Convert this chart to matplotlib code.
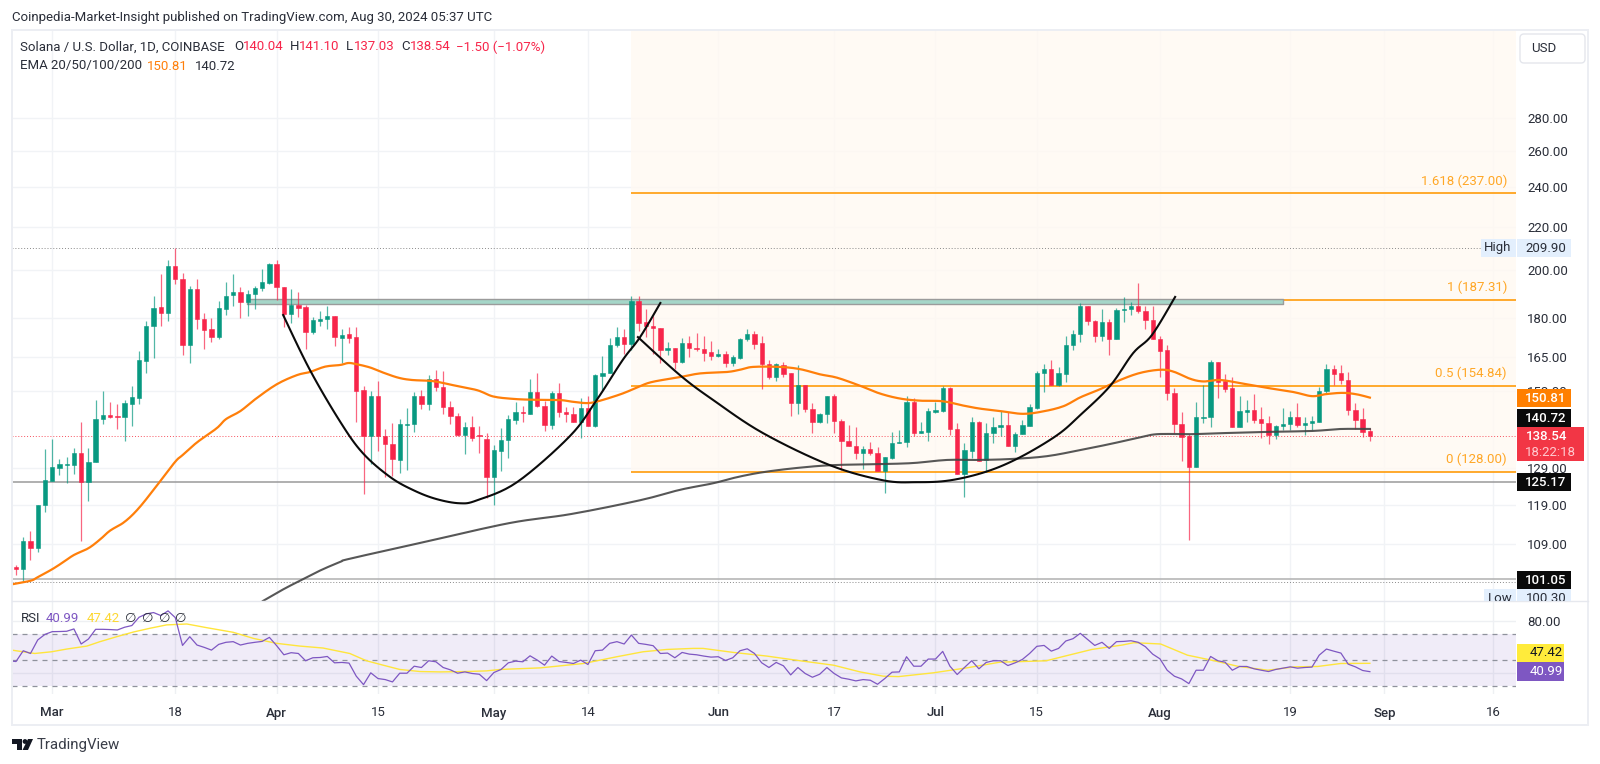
import matplotlib
matplotlib.use("Agg")
import matplotlib.pyplot as plt
import numpy as np
import pandas as pd
from matplotlib.patches import Rectangle, FancyBboxPatch, Polygon, Circle
from matplotlib.transforms import Bbox, TransformedBbox

plt.rcParams["font.family"] = ["Roboto", "DejaVu Sans"]

# daily candles, Feb 25 to Aug 30 2024
start_date = "2024-02-25"
opens = [103.8, 103.2, 109.8, 108.2, 118.9, 125.5, 129.2, 129.9, 129.9, 133.4, 125.2, 130.9, 143.8, 145.1, 144.8, 144.5,
         148.8, 150.8, 163.7, 176.6, 184.2, 181.9, 201.8, 196.0, 169.4, 191.9, 179.5, 175.5, 172.4, 183.6, 189.2, 190.4,
         186.1, 189.5, 192.0, 194.3, 202.6, 192.6, 181.4, 185.0, 184.2, 174.2, 178.7, 179.4, 180.6, 172.2, 173.4, 172.4,
         153.3, 138.4, 151.3, 138.5, 136.1, 131.5, 141.9, 142.2, 151.3, 148.7, 157.0, 154.5, 147.7, 144.8, 138.8, 141.3,
         138.8, 137.7, 126.6, 134.1, 137.4, 143.6, 146.1, 145.6, 152.7, 148.0, 141.9, 152.3, 146.0, 145.4, 142.9, 147.4,
         141.6, 158.3, 159.2, 169.4, 172.4, 169.8, 186.7, 178.1, 176.7, 176.0, 167.6, 168.3, 163.1, 170.0, 168.4, 168.0,
         166.8, 165.3, 166.1, 162.8, 164.6, 171.5, 173.6, 170.0, 162.4, 157.8, 162.2, 159.1, 149.1, 155.0, 147.1, 142.9,
         145.3, 151.2, 143.2, 137.1, 135.6, 133.4, 134.6, 133.5, 128.2, 132.0, 136.5, 136.6, 149.4, 139.6, 139.8, 146.2,
         146.4, 153.9, 140.7, 127.5, 134.1, 142.9, 131.3, 139.4, 141.2, 141.8, 135.5, 139.2, 141.7, 147.5, 159.3, 160.6,
         155.0, 159.0, 169.3, 173.6, 184.7, 178.7, 172.8, 178.2, 171.5, 183.0, 183.3, 184.8, 182.7, 179.0, 171.6, 167.4,
         152.3, 142.4, 138.4, 129.5, 144.3, 144.5, 163.1, 156.3, 153.9, 141.4, 146.2, 146.6, 143.8, 142.6, 138.9, 141.7,
         142.2, 144.4, 141.9, 142.6, 143.0, 153.2, 160.6, 159.1, 156.9, 146.8, 144.0, 140.04]
highs = [104.2, 110.7, 112.3, 118.9, 134.6, 137.7, 131.6, 132.2, 134.8, 142.9, 134.8, 150.0, 153.0, 149.4, 148.7, 150.0,
         154.8, 167.2, 178.6, 188.9, 198.0, 204.4, 209.9, 198.8, 193.2, 196.0, 181.9, 180.0, 186.7, 194.6, 198.0, 192.7,
         191.2, 192.9, 200.4, 203.3, 204.4, 192.6, 191.9, 190.3, 185.0, 180.1, 182.8, 184.6, 180.6, 175.4, 176.4, 176.3,
         154.8, 153.0, 156.4, 140.7, 142.7, 143.7, 147.5, 152.6, 153.3, 158.5, 160.3, 160.0, 149.6, 145.9, 143.0, 144.8,
         141.7, 139.5, 135.8, 140.9, 145.1, 149.2, 148.0, 157.0, 159.1, 149.8, 153.1, 155.6, 147.8, 147.6, 150.6, 151.4,
         158.9, 165.2, 171.9, 176.1, 175.4, 188.8, 189.0, 183.3, 180.6, 176.0, 170.5, 168.3, 171.9, 173.0, 173.8, 172.8,
         171.0, 167.8, 167.2, 165.7, 171.9, 175.7, 174.7, 172.8, 164.0, 162.9, 163.1, 159.1, 162.1, 155.0, 148.9, 145.9,
         151.2, 152.0, 143.8, 141.9, 141.3, 135.5, 136.7, 135.1, 132.3, 139.8, 140.4, 151.2, 150.7, 143.0, 147.5, 149.3,
         154.7, 154.3, 142.5, 136.4, 144.5, 143.2, 142.5, 144.5, 146.4, 146.1, 139.8, 143.5, 148.6, 160.0, 162.4, 164.0,
         161.5, 172.8, 175.1, 185.7, 184.7, 179.2, 183.5, 179.6, 183.7, 188.5, 186.4, 194.2, 184.8, 184.7, 173.0, 169.4,
         153.9, 146.1, 139.1, 149.4, 155.0, 163.9, 163.1, 158.9, 157.9, 151.3, 150.0, 152.0, 147.6, 144.9, 141.9, 147.3,
         146.4, 148.9, 144.5, 144.9, 154.3, 162.3, 162.1, 162.1, 159.7, 148.9, 147.5, 141.10]
lows = [101.9, 100.3, 105.3, 107.2, 117.2, 125.5, 127.2, 124.8, 127.4, 109.9, 120.0, 130.9, 142.2, 144.2, 140.6, 137.1,
        141.7, 148.8, 159.3, 164.7, 176.8, 178.6, 193.8, 165.6, 162.7, 175.5, 167.9, 170.6, 171.5, 181.1, 184.7, 180.0,
        180.7, 183.6, 191.0, 193.8, 187.1, 176.1, 177.9, 180.3, 168.1, 173.6, 176.8, 175.5, 169.0, 162.7, 170.0, 143.0,
        122.0, 130.2, 134.0, 126.6, 126.8, 127.7, 128.5, 139.8, 146.9, 146.7, 153.1, 145.3, 142.2, 138.6, 133.1, 137.1,
        133.3, 120.7, 118.9, 128.3, 132.1, 142.2, 143.0, 145.4, 147.8, 140.2, 140.6, 144.6, 143.0, 143.0, 138.0, 141.7,
        141.4, 153.3, 159.2, 168.8, 166.1, 167.5, 174.6, 172.3, 166.1, 162.7, 165.7, 160.5, 162.7, 165.1, 167.2, 163.6,
        164.0, 165.1, 161.5, 161.8, 164.4, 171.0, 167.9, 153.8, 157.3, 156.4, 157.7, 144.9, 145.4, 146.1, 139.6, 142.7,
        142.7, 139.6, 128.5, 135.6, 131.7, 128.8, 132.8, 128.2, 122.2, 131.8, 136.3, 135.3, 138.6, 139.5, 137.1, 145.9,
        146.1, 138.8, 127.4, 121.0, 132.1, 131.2, 128.0, 136.5, 138.5, 135.5, 133.8, 139.1, 141.6, 147.0, 152.6, 155.0,
        154.8, 156.0, 167.5, 170.6, 177.1, 170.5, 171.0, 165.6, 171.5, 178.4, 181.0, 181.9, 175.5, 171.5, 157.7, 150.0,
        139.6, 131.0, 110.0, 129.4, 142.5, 141.3, 150.8, 152.6, 141.4, 141.4, 143.0, 142.7, 138.0, 136.0, 137.5, 140.4,
        140.4, 141.2, 138.9, 140.4, 142.9, 152.2, 155.0, 155.3, 145.1, 140.7, 138.1, 137.03]
closes = [103.2, 109.8, 108.2, 118.9, 125.7, 129.3, 130.2, 130.2, 133.4, 125.2, 130.9, 144.0, 145.1, 144.5, 144.6, 148.9,
          151.0, 163.9, 176.6, 183.8, 181.8, 201.8, 195.9, 169.4, 191.9, 179.4, 175.1, 172.4, 183.8, 188.9, 190.4, 186.3,
          189.6, 192.1, 194.6, 202.6, 192.4, 181.4, 185.0, 184.0, 174.3, 178.9, 179.5, 180.6, 172.3, 173.2, 172.1, 153.2,
          138.4, 151.5, 138.4, 136.1, 131.6, 142.2, 142.4, 151.3, 148.7, 157.0, 154.5, 147.7, 144.9, 138.8, 141.3, 138.0,
          138.6, 126.6, 134.3, 137.4, 143.7, 146.1, 145.8, 152.7, 148.0, 141.9, 152.3, 146.0, 145.4, 143.0, 147.5, 141.7,
          158.5, 159.4, 169.4, 172.4, 169.8, 186.8, 178.0, 176.7, 175.9, 167.6, 168.3, 163.1, 170.0, 168.3, 167.9, 166.5,
          165.3, 166.1, 162.8, 164.9, 171.6, 173.6, 169.9, 162.5, 157.7, 162.3, 159.0, 149.1, 155.0, 147.1, 142.9, 145.4,
          151.2, 143.1, 137.0, 135.6, 133.4, 134.6, 133.4, 128.2, 132.2, 136.4, 136.7, 149.4, 139.5, 140.0, 146.4, 146.6,
          153.9, 140.7, 127.5, 134.2, 142.9, 131.2, 139.6, 141.3, 141.8, 135.6, 139.3, 141.8, 147.7, 159.4, 160.6, 155.0,
          159.1, 169.4, 173.7, 184.7, 178.6, 173.0, 178.2, 171.5, 183.2, 183.4, 184.8, 182.6, 179.0, 171.6, 167.3, 152.3,
          142.4, 138.3, 129.5, 144.4, 144.6, 163.1, 156.2, 153.8, 141.4, 146.4, 146.6, 143.6, 142.6, 138.9, 141.7, 142.4,
          144.4, 141.9, 142.6, 143.2, 153.2, 160.6, 159.0, 156.8, 146.7, 143.6, 139.8, 138.54]

# moving averages read at a few bars
ema50_bars = [-0.6, 2, 3, 5, 6.5, 8, 10, 11.6, 13, 15, 17, 19.7, 22, 23, 25, 27.7, 29, 31, 33, 36, 38.8, 40.6, 42.7, 44.8,
              45.9, 47, 48.9, 50.7, 52.8, 54.7, 57.6, 60.4, 63.7, 65.9, 68.6, 71.4, 75.1, 77, 79, 80.7, 83.8, 86.2, 88,
              91.7, 94.5, 98.2, 100, 101.8, 105.5, 108.3, 111, 113.4, 116.6, 119.3, 122.1, 124.8, 128, 130.8, 133.1,
              135.9, 139.1, 141.9, 144.7, 147, 149.7, 152.5, 155.3, 158.1, 159.9, 162.2, 164, 166.3, 169.1, 172.8, 176.4,
              179, 181, 183.3, 185.2, 187]
ema50_vals = [99.8, 100.6, 101.4, 103.2, 104.8, 106.5, 108.1, 110.2, 112.4, 114.6, 118.2, 124.8, 130.9, 132.8, 136.6, 140.9,
              143.8, 146.4, 150.2, 155.3, 158.5, 159.6, 161.5, 162.1, 162.8, 162.4, 161.2, 159.4, 157.6, 156.8, 156.4,
              155.0, 153.3, 151.2, 150.4, 150.1, 150.0, 149.4, 149.0, 149.8, 152.2, 154.7, 156.2, 157.8, 159.1, 159.6,
              160.4, 161.4, 161.4, 160.6, 158.8, 157.6, 154.8, 152.2, 150.5, 149.8, 149.6, 148.2, 147.2, 146.4, 145.5,
              146.3, 148.0, 150.9, 153.6, 156.8, 159.3, 160.4, 159.7, 157.2, 156.3, 156.8, 155.7, 154.1, 152.7, 151.3,
              152.0, 152.4, 151.9, 150.81]
ema200_bars = [34.1, 36.9, 39.2, 42, 44.8, 46.3, 56.9, 68.2, 76.7, 86.2, 91.7, 96.3, 99.6, 103.2, 107.9, 112.8, 119.3, 123.9,
               128.6, 133.1, 137.7, 142.4, 147, 151.1, 154.8, 157.6, 162.2, 166.3, 172.8, 179.1, 182.9, 187]
ema200_vals = [96.2, 98.7, 100.6, 102.9, 104.9, 105.7, 109.8, 114.3, 116.6, 120.2, 123.0, 124.8, 126.5, 127.9, 129.1, 129.9,
               130.2, 130.5, 131.4, 131.4, 131.7, 132.5, 134.3, 136.1, 137.9, 139.1, 139.1, 139.4, 139.8, 140.1, 140.7, 140.72]

# hand drawn cup arcs
arc1_bars = [36.9, 40.6, 44.8, 47.9, 51.7, 55, 58.1, 61.3, 63.7, 69.2, 76.5, 80.2, 83.8, 86.2, 89]
arc1_vals = [181.0, 160.3, 142.9, 133.4, 126.5, 122.8, 120.5, 119.4, 120.2, 125.1, 138.5, 150.0, 163.9, 172.4, 185.9]
arc2_bars = [85.9, 91.7, 96.3, 103.2, 112.4, 119.8, 124.4, 129, 134.1, 138.7, 143.8, 147, 151.1, 154.3, 156.9, 160.1]
arc2_vals = [172.4, 158.5, 150.0, 139.4, 129.9, 125.6, 125.1, 125.6, 128.1, 132.2, 138.8, 145.1, 154.7, 166.4, 173.2, 188.4]

# rsi starts one bar before the first candle
rsi_vals = [49.4, 48.8, 57.1, 55.0, 65.4, 69.7, 71.8, 71.9, 72.1, 73.9, 62.3, 66.1, 73.6, 73.6, 73.4, 73.1, 75.2, 76.5, 82.9, 85.5,
            86.5, 84.2, 87.8, 82.6, 61.2, 67.9, 61.5, 59.7, 57.6, 62.0, 63.6, 64.1, 61.5, 62.8, 63.6, 64.3, 67.4, 61.0,
            54.0, 55.6, 55.0, 49.4, 51.7, 51.9, 52.7, 47.8, 48.1, 47.6, 37.5, 31.0, 40.1, 35.7, 34.9, 33.1, 39.8, 39.8,
            45.2, 44.2, 49.4, 48.6, 44.2, 42.4, 39.8, 40.8, 39.6, 39.0, 34.1, 40.3, 42.7, 47.8, 49.1, 48.6, 53.2, 49.9,
            46.0, 53.0, 48.8, 48.1, 47.3, 49.9, 46.5, 57.1, 57.6, 62.8, 64.1, 62.3, 69.2, 62.8, 62.0, 61.0, 55.0, 55.3,
            51.7, 55.8, 54.5, 54.0, 53.0, 52.2, 52.5, 49.6, 51.7, 57.1, 58.6, 55.0, 47.8, 44.2, 48.1, 45.5, 38.5, 44.2,
            39.6, 36.7, 39.0, 44.2, 39.6, 36.2, 35.2, 33.9, 34.9, 34.4, 31.3, 35.7, 40.6, 40.8, 52.5, 45.2, 45.2, 50.7,
            50.7, 56.6, 45.2, 38.8, 44.2, 49.4, 43.2, 48.1, 49.4, 49.4, 45.7, 47.8, 50.4, 55.0, 60.5, 61.2, 56.8, 58.9,
            64.6, 66.4, 70.5, 65.9, 61.2, 63.6, 58.9, 64.1, 64.3, 64.8, 63.6, 60.2, 54.5, 50.9, 42.1, 37.5, 35.4, 31.8,
            42.1, 42.1, 52.7, 49.4, 48.3, 42.1, 45.0, 45.0, 43.2, 42.1, 41.1, 42.7, 43.7, 44.7, 43.7, 44.2, 44.5, 53.7,
            58.4, 56.8, 55.3, 46.8, 44.7, 41.9, 40.99]
rsi_ma_bars = [-0.6, 2.6, 4.9, 7, 9.8, 11.6, 13.9, 16.2, 18.5, 20.8, 23.6, 26.3, 30, 32.8, 36, 39.2, 42.4, 46.1, 48.4, 50.7,
               53, 55.8, 58.6, 62.2, 65, 66.9, 72.4, 78.4, 83, 86.6, 89.9, 93.5, 94.9, 99.1, 103.7, 108.3, 112.9, 116.6,
               119.8, 121.9, 126.7, 131.3, 135.9, 139.1, 142.3, 145.4, 148.6, 152.8, 154.4, 158.1, 161.8, 165.5, 168.7,
               172.9, 176.6, 179.8, 183, 187]
rsi_ma_vals = [57.6, 55.0, 56.3, 58.4, 60.7, 64.1, 67.9, 71.5, 74.4, 77.0, 77.7, 74.9, 71.3, 66.6, 62.8, 60.7, 59.2, 55.0, 49.4,
               46.0, 42.7, 41.1, 40.8, 41.1, 41.6, 42.7, 43.9, 47.3, 52.5, 56.3, 58.1, 58.9, 58.9, 55.8, 53.0, 49.4, 46.0,
               40.8, 37.5, 37.2, 40.1, 43.9, 48.3, 48.8, 49.4, 53.7, 58.1, 61.5, 63.3, 62.3, 53.7, 49.4, 45.2, 42.1, 44.7,
               45.0, 47.3, 47.42]

# levels
fib_levels = [237.00, 187.31, 154.84, 128.00]
fib_labels = ["1.618 (237.00)", "1 (187.31)", "0.5 (154.84)", "0 (128.00)"]
support_levels = [125.17, 101.05]
price_high = 209.90
price_low = 100.30
last_close = 138.54
zone_low, zone_high = 185.6, 187.5

price_ticks = [280, 260, 240, 220, 200, 180, 165, 153, 129, 119, 109]
date_ticks = ["2024-03-01", "2024-03-18", "2024-04-01", "2024-04-15", "2024-05-01", "2024-05-14", "2024-06-01",
              "2024-06-17", "2024-07-01", "2024-07-15", "2024-08-01", "2024-08-19", "2024-09-01", "2024-09-16"]
date_labels = ["Mar", "18", "Apr", "15", "May", "14", "Jun", "17", "Jul", "15", "Aug", "19", "Sep", "16"]

UP = "#089981"
DOWN = "#f7254a"
ORANGE = "#ff9800"
GRID = "#f1f3f6"
TEXT = "#2a2e39"
FS = 9.55
W, H = 1600, 764
X0, X1 = 12, 1516          # pane edges in pixels
PANE_TOP, PANE_MID, PANE_BOT = 30, 601, 694
PRICE_MIN, PRICE_MAX = 96.2, 339.9
PX_PER_BAR = 7.24
FIRST_BAR_X = 16


def bar_of(px):
    return (px - FIRST_BAR_X) / PX_PER_BAR


def pane_rect(top, bottom):
    return [X0 / W, 1 - bottom / H, (X1 - X0) / W, (bottom - top) / H]


def date_to_bar(d):
    return (pd.Timestamp(d) - pd.Timestamp(start_date)).days


def smooth_curve(xs, ys, n=8):
    """catmull-rom through the read points, in log price, so lines don't look kinked"""
    xs = np.array(xs, dtype=float)
    ys = np.log(np.array(ys, dtype=float))
    px = np.r_[xs[0], xs, xs[-1]]
    py = np.r_[ys[0], ys, ys[-1]]
    out_x, out_y = [], []
    for i in range(1, len(px) - 2):
        t = np.linspace(0, 1, n, endpoint=False)
        for p, out in ((px, out_x), (py, out_y)):
            a, b, c, d = p[i - 1], p[i], p[i + 1], p[i + 2]
            out.extend(0.5 * (2 * b + (c - a) * t + (2 * a - 5 * b + 4 * c - d) * t ** 2 + (3 * b - a - 3 * c + d) * t ** 3))
    out_x.append(xs[-1])
    out_y.append(ys[-1])
    return np.array(out_x), np.exp(out_y)


fig = plt.figure(figsize=(16, 7.64), dpi=100, facecolor="white")
ax = fig.add_axes(pane_rect(PANE_TOP, PANE_MID))
ax_rsi = fig.add_axes(pane_rect(PANE_MID, PANE_BOT), sharex=ax)

bars = np.arange(len(closes))
tick_bars = [date_to_bar(d) for d in date_ticks]

# main pane
ax.set_yscale("log")
ax.set_xlim(bar_of(X0), bar_of(X1))
ax.set_ylim(PRICE_MIN, PRICE_MAX)
ax.set_yticks(price_ticks)
ax.set_yticklabels([f"{p:.2f}" for p in price_ticks])
ax.minorticks_off()
ax.yaxis.tick_right()
ax.tick_params(axis="y", length=0, pad=8, labelsize=FS, labelcolor=TEXT)
ax.tick_params(axis="x", length=0, labelbottom=False)
ax.set_xticks(tick_bars)
ax.grid(True, color=GRID, lw=1)
ax.set_axisbelow(True)
for s in ax.spines.values():
    s.set_visible(False)

# fib background and levels start on the bar of the cup rim
fib_start = bar_of(631)
ax.fill_between([fib_start, bar_of(X1)], 128.0, PRICE_MAX, color="#fff9f2", alpha=0.8, lw=0, zorder=1.2)
for lvl, lab in zip(fib_levels, fib_labels):
    ax.plot([fib_start, bar_of(X1)], [lvl, lvl], color=ORANGE, lw=1.15, solid_capstyle="butt", zorder=2)
    ax.annotate(lab, (bar_of(X1), lvl), xytext=(-6.5, 4), textcoords="offset points", ha="right", va="bottom",
                fontsize=FS, color="#ffa726", zorder=6, annotation_clip=False)

# reference lines
for lvl, col in zip(support_levels, ["#9a9a9a", "#b0b0b0"]):
    ax.axhline(lvl, color=col, lw=1.1, zorder=2)
ax.axhline(price_high, color="#8a8a8a", lw=0.7, ls=(0, (1, 2)), zorder=1.5)
ax.axhline(price_low, color="#8a8a8a", lw=0.7, ls=(0, (1, 2)), zorder=1.5)
ax.axhline(last_close, color="#f7525f", lw=0.7, ls=(0, (1, 2)), zorder=1.5)

# resistance zone
zone_x0, zone_x1 = bar_of(247), bar_of(1283)
ax.fill_between([zone_x0, zone_x1], zone_low, zone_high, facecolor="#a5d6c8", edgecolor="#9b9b9b", lw=1.0, zorder=2.2)

# candles
colors = [UP if c >= o else DOWN for o, c in zip(opens, closes)]
body_low = np.minimum(opens, closes)
body_high = np.maximum(opens, closes)
ax.vlines(bars, lows, highs, colors=colors, lw=0.9, alpha=0.7, zorder=3)
ax.bar(bars, body_high - body_low, bottom=body_low, width=0.6, color=colors, lw=0.4, edgecolor=colors, zorder=3.2)

# ema lines and arcs
ax.plot(*smooth_curve(ema50_bars, ema50_vals), color="#ff7f0a", lw=1.6, solid_joinstyle="round", zorder=4)
ax.plot(*smooth_curve(ema200_bars, ema200_vals), color="#454545", lw=1.5, alpha=0.9, solid_joinstyle="round", zorder=4)
ax.plot(*smooth_curve(arc1_bars, arc1_vals), color="#0b0b0b", lw=1.5, solid_joinstyle="round", zorder=4.5)
ax.plot(*smooth_curve(arc2_bars, arc2_vals), color="#0b0b0b", lw=1.5, solid_joinstyle="round", zorder=4.5)

# rsi pane
rsi_bars = np.arange(-1, len(rsi_vals) - 1)
ax_rsi.set_ylim(23.8, 95.4)
ax_rsi.set_yticks([80, 40])
ax_rsi.set_yticklabels(["80.00", ""])
ax_rsi.yaxis.tick_right()
ax_rsi.tick_params(axis="y", length=0, pad=8, labelsize=FS, labelcolor=TEXT)
ax_rsi.grid(True, color="#eef0f3", lw=1)
ax_rsi.set_axisbelow(True)
for s in ax_rsi.spines.values():
    s.set_visible(False)
ax_rsi.axhspan(30, 70, color="#7e57c2", alpha=0.11, lw=0)
for lvl in [70, 50, 30]:
    ax_rsi.axhline(lvl, color="#8f929c", lw=0.9, ls=(0, (4, 4)))

# green gradient where rsi is above 70
rsi_arr = np.array(rsi_vals)
fill = ax_rsi.fill_between(rsi_bars, 70, rsi_arr, where=rsi_arr >= 70, interpolate=True, color="none", lw=0)
grad = np.zeros((64, 2, 4))
grad[..., :3] = matplotlib.colors.to_rgb("#2e9e4f")
grad[..., 3] = np.linspace(0.65, 0.0, 64)[:, None]
img = ax_rsi.imshow(grad, extent=[bar_of(X0), bar_of(X1), 70, 90], origin="upper", aspect="auto", zorder=1.5)
img.set_clip_path(fill.get_paths()[0], transform=ax_rsi.transData)
ax_rsi.set_xlim(bar_of(X0), bar_of(X1))
ax_rsi.set_ylim(23.8, 95.4)

ax_rsi.plot(rsi_ma_bars, rsi_ma_vals, color="#ffe53b", lw=1.0, zorder=3)
ax_rsi.plot(rsi_bars, rsi_vals, color="#7e57c2", lw=0.9, zorder=3.2)

ax_rsi.set_xticks(tick_bars)
ax_rsi.set_xticklabels(date_labels)
ax_rsi.tick_params(axis="x", length=0, pad=9, labelsize=FS, labelcolor=TEXT)
for t, lab in zip(ax_rsi.get_xticklabels(), date_labels):
    if not lab.isdigit():
        t.set_fontweight("medium")

# overlay in pixels for frame, legends and price labels
ov = fig.add_axes([0, 0, 1, 1], zorder=10)
ov.set_xlim(0, W)
ov.set_ylim(H, 0)
ov.axis("off")
ov.add_patch(Rectangle((12, 30), 1576, 695, fill=False, edgecolor="#eceef3", lw=1.4))
ov.plot([12, 1588], [601, 601], color="#e6e8ee", lw=1.0)

ov.text(12, 17, "Coinpedia-Market-Insight published on TradingView.com, Aug 30, 2024 05:37 UTC",
        fontsize=FS, color=TEXT, va="center")

# top legend, one piece per colour
legend1 = [(20, "Solana / U.S. Dollar, 1D, COINBASE", TEXT), (234, "O", TEXT), (243, "140.04", DOWN),
           (290, "H", TEXT), (299, "141.10", DOWN), (346, "L", TEXT), (354, "137.03", DOWN),
           (401, "C", TEXT), (410, "138.54", DOWN), (456, "\u22121.50 (\u22121.07%)", DOWN)]
for x, s, c in legend1:
    ov.text(x, 47, s, fontsize=FS, color=c, va="center")
ov.text(20, 66, "EMA 20/50/100/200", fontsize=FS, color=TEXT, va="center")
ov.text(147, 66, "150.81", fontsize=FS, color="#ff7f0a", va="center")
ov.text(195, 66, "140.72", fontsize=FS, color=TEXT, va="center")

# rsi legend
ov.text(21, 619, "RSI", fontsize=FS, color=TEXT, va="center")
ov.text(46, 619, "40.99", fontsize=FS, color="#7e57c2", va="center")
ov.text(87, 619, "47.42", fontsize=FS, color="#fdd835", va="center")
for x in [131, 148, 165, 181]:
    ov.text(x, 619, "\u2205", fontsize=FS, color=TEXT, va="center", ha="center")


def price_label(y0, y1, text, bg, fg="white", x0=1517, x1=1571, weight="medium"):
    ov.add_patch(Rectangle((x0, y0), x1 - x0, y1 - y0, facecolor=bg, edgecolor="none", zorder=5))
    return ov.text(1546, (y0 + y1) / 2, text, fontsize=FS, color=fg, ha="center", va="center", zorder=6, fontweight=weight)


price_label(389, 407, "150.81", "#ff7f00")
price_label(409, 427, "140.72", "#0a0a0a")
price_label(427, 461, "", "#f23645", x1=1584)
ov.text(1547, 436, "138.54", fontsize=FS, color="white", ha="center", va="center", zorder=6, fontweight="medium")
ov.text(1550, 452, "18:22:18", fontsize=FS, color="#ffc9cf", ha="center", va="center", zorder=6)
price_label(473, 491, "125.17", "#0a0a0a")
price_label(571, 589, "101.05", "#0a0a0a")
price_label(644, 662, "47.42", "#ffeb3b", fg="#131722", x1=1564, weight="normal")
price_label(662, 681, "40.99", "#7e57c2", x1=1564, weight="normal")

# high and low tags
LABEL_BLUE = "#e3effd"
ov.add_patch(Rectangle((1481, 239), 35, 18, facecolor=LABEL_BLUE, edgecolor="none", zorder=5))
ov.text(1498, 248, "High", fontsize=FS, color=TEXT, ha="center", va="center", zorder=6)
price_label(239, 257, "209.90", LABEL_BLUE, fg=TEXT, weight="normal")
clip = TransformedBbox(Bbox([[1470, 560], [1595, 601]]), ov.transData)
for art in [ov.add_patch(Rectangle((1484, 589), 32, 18, facecolor=LABEL_BLUE, edgecolor="none", zorder=5)),
            ov.add_patch(Rectangle((1517, 589), 54, 18, facecolor=LABEL_BLUE, edgecolor="none", zorder=5)),
            ov.text(1500, 598, "Low", fontsize=FS, color=TEXT, ha="center", va="center", zorder=6),
            ov.text(1546, 598, "100.30", fontsize=FS, color=TEXT, ha="center", va="center", zorder=6)]:
    art.set_clip_box(clip)
    art.set_clip_on(True)

# USD button
ov.add_patch(FancyBboxPatch((1522, 36), 61, 25, boxstyle="round,pad=2,rounding_size=4", facecolor="white",
                            edgecolor="#e4e6ec", lw=1, zorder=5))
ov.text(1531, 48, "USD", fontsize=FS, color=TEXT, va="center", zorder=6)

# TradingView mark
ov.add_patch(Polygon([(12, 739), (22, 739), (22, 750), (17, 750), (17, 744), (12, 744)], facecolor="#131722", edgecolor="none"))
ov.add_patch(Circle((25, 741.5), 2.4, facecolor="#131722", edgecolor="none"))
ov.add_patch(Polygon([(28, 739), (33, 739), (28, 750), (22.5, 750)], facecolor="#131722", edgecolor="none"))
ov.text(37, 745, "TradingView", fontsize=10.8, color="#3a3e49", va="center")

fig.savefig("out.png", dpi=100)
